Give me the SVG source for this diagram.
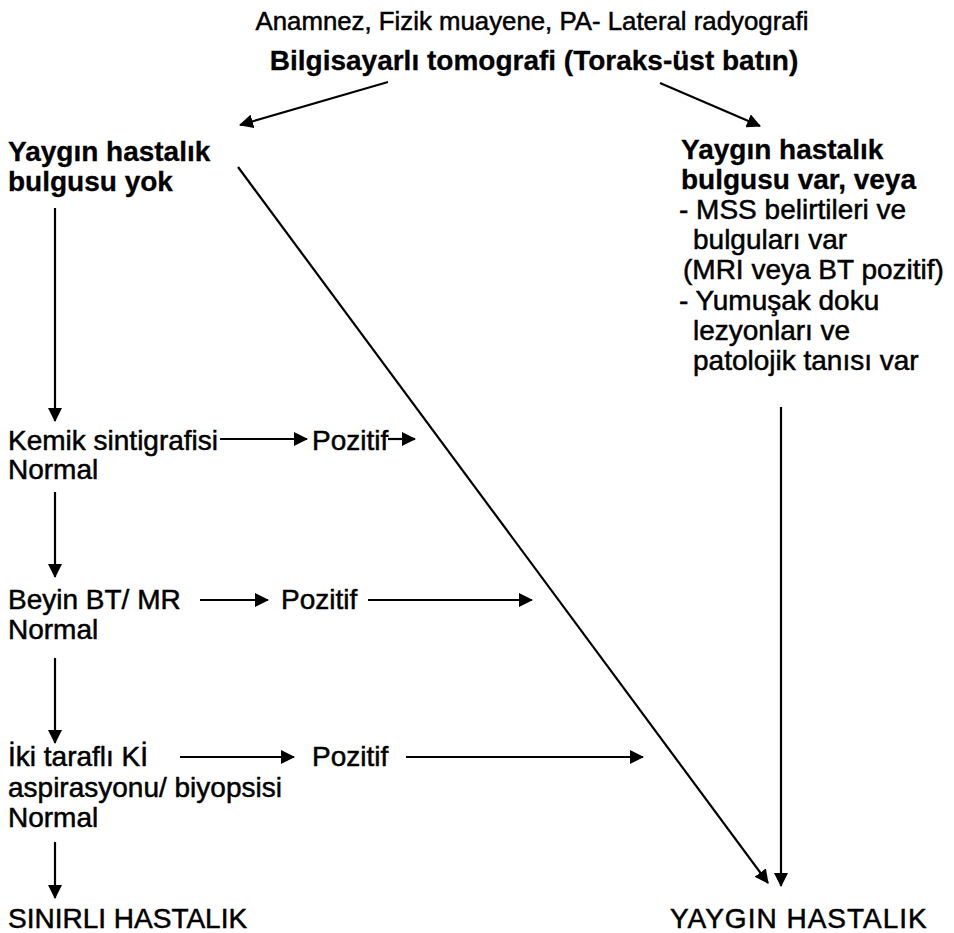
<svg xmlns="http://www.w3.org/2000/svg" width="954" height="933" viewBox="0 0 954 933">
<style>
text{font-family:"Liberation Sans",Arial,sans-serif;font-size:28px;fill:#000;stroke:#000;stroke-width:0.5}
.b{font-weight:bold;stroke-width:0.3}
.t{font-size:25.8px}
.tb{font-size:28px;font-weight:bold;stroke-width:0.3}
.c line{stroke:#000;stroke-width:2.2;fill:none}
</style>
<defs>
<marker id="ah" viewBox="0 0 14 14" refX="13" refY="7" markerWidth="14" markerHeight="14" markerUnits="userSpaceOnUse" orient="auto">
<path d="M0,0 L14,7 L0,14 Z" fill="#000"/>
</marker>
</defs>
<rect width="954" height="933" fill="#fff"/>
<g id="top">
<text class="t" x="532" y="30" text-anchor="middle">Anamnez, Fizik muayene, PA- Lateral radyografi</text>
<text class="tb" x="534" y="70" text-anchor="middle">Bilgisayarlı tomografi (Toraks-üst batın)</text>
</g>
<g id="yok">
<text class="b" x="8" y="161">Yaygın hastalık</text>
<text class="b" x="8" y="191">bulgusu yok</text>
</g>
<g id="var">
<text class="b" x="681" y="159">Yaygın hastalık</text>
<text class="b" x="681" y="189">bulgusu var, veya</text>
<text x="679" y="219">- MSS belirtileri ve</text>
<text x="693" y="249">bulguları var</text>
<text x="683" y="279">(MRI veya BT pozitif)</text>
<text x="679" y="310">- Yumuşak doku</text>
<text x="693" y="340">lezyonları ve</text>
<text x="693" y="370">patolojik tanısı var</text>
</g>
<g id="kemik">
<text x="8" y="450">Kemik sintigrafisi</text>
<text x="8" y="479">Normal</text>
</g>
<g id="poz1"><text x="312" y="450">Pozitif</text></g>
<g id="beyin">
<text x="8" y="609">Beyin BT/ MR</text>
<text x="8" y="639">Normal</text>
</g>
<g id="poz2"><text x="281" y="609">Pozitif</text></g>
<g id="iki">
<text x="8" y="766">İki taraflı Kİ</text>
<text x="8" y="797">aspirasyonu/ biyopsisi</text>
<text x="8" y="827">Normal</text>
</g>
<g id="poz3"><text x="312" y="766">Pozitif</text></g>
<g id="sinirli"><text x="8" y="928">SINIRLI HASTALIK</text></g>
<g id="yaygin"><text x="670" y="928" style="letter-spacing:1px">YAYGIN HASTALIK</text></g>
<g id="connectors" class="c">
<line x1="388" y1="82" x2="240" y2="125" marker-end="url(#ah)"/>
<line x1="660" y1="83" x2="760" y2="126" marker-end="url(#ah)"/>
<line x1="238" y1="167" x2="768" y2="883" marker-end="url(#ah)"/>
<line x1="781" y1="407" x2="781" y2="886" marker-end="url(#ah)"/>
<line x1="55" y1="208" x2="55" y2="421" marker-end="url(#ah)"/>
<line x1="220" y1="439" x2="307" y2="439" marker-end="url(#ah)"/>
<line x1="388" y1="439" x2="415" y2="439" marker-end="url(#ah)"/>
<line x1="55" y1="492" x2="55" y2="577" marker-end="url(#ah)"/>
<line x1="200" y1="600" x2="268" y2="600" marker-end="url(#ah)"/>
<line x1="368" y1="600" x2="532" y2="600" marker-end="url(#ah)"/>
<line x1="55" y1="658" x2="55" y2="743" marker-end="url(#ah)"/>
<line x1="180" y1="757" x2="294" y2="757" marker-end="url(#ah)"/>
<line x1="406" y1="757" x2="643" y2="757" marker-end="url(#ah)"/>
<line x1="55" y1="842" x2="55" y2="898" marker-end="url(#ah)"/>
</g>
</svg>
